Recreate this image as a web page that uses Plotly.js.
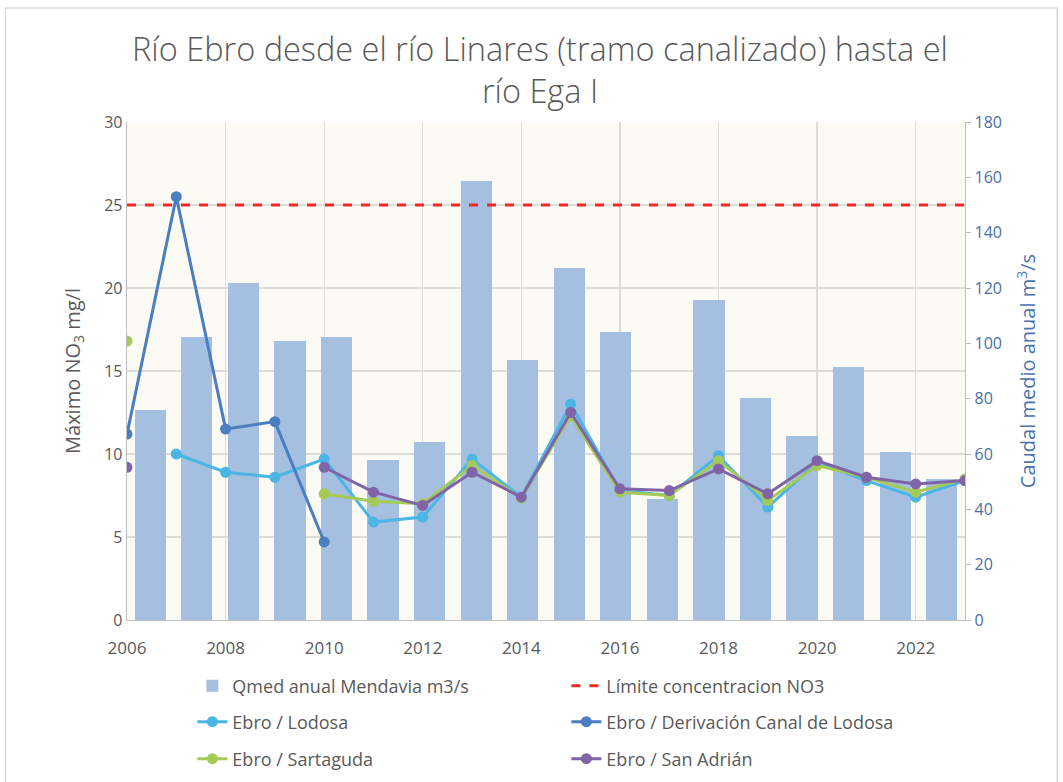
<!DOCTYPE html>
<html>
<head>
<meta charset="utf-8">
<script src="https://cdn.plot.ly/plotly-3.0.1.min.js"></script>
<style>
html,body{margin:0;padding:0;background:#ffffff;}
#chart{width:1063px;height:782px;}
</style>
</head>
<body>
<div id="chart"></div>
<script>
// ---- data ----
const years = [2006,2007,2008,2009,2010,2011,2012,2013,2014,2015,2016,2017,2018,2019,2020,2021,2022,2023];
const qmedMendavia = [76,102.3,121.8,101,102.4,58,64.3,158.7,94,127.2,104.1,43.7,115.6,80.2,66.5,91.4,60.7,51];
const limiteNO3 = [25,25];
const limiteYears = [2006,2023];
const lodosa = [null,10.0,8.9,8.6,9.7,5.9,6.2,9.7,7.4,13.0,7.8,7.5,9.9,6.8,9.5,8.4,7.4,8.4];
const derivacion = [11.2,25.5,11.5,11.95,4.7,null,null,null,null,null,null,null,null,null,null,null,null,null];
const sartaguda = [16.8,null,null,null,7.6,7.15,7.0,9.3,7.35,12.3,7.7,7.5,9.6,7.2,9.3,8.6,7.7,8.5];
const sanAdrian = [9.2,null,null,null,9.2,7.7,6.9,8.9,7.4,12.5,7.9,7.8,9.1,7.6,9.6,8.6,8.2,8.4];
const names = ["Qmed anual Mendavia m3/s","Límite concentracion NO3","Ebro / Lodosa","Ebro / Derivación Canal de Lodosa","Ebro / Sartaguda","Ebro / San Adrián"];

const grey = "#595959";
const lineTrace = (y, name, color, lg) => ({
  type: "scatter", mode: "lines+markers", x: years, y: y, name: name,
  xaxis: "x2", yaxis: "y2", connectgaps: false, legend: lg,
  line: {color: color, width: 3},
  marker: {color: color, size: 11}
});

const traces = [
  {type: "bar", x: years, y: qmedMendavia, name: names[0], xaxis: "x", yaxis: "y",
   width: 0.67, marker: {color: "#a4bfe0"}, legend: "legend"},
  {type: "scatter", mode: "lines", x: limiteYears, y: limiteNO3, name: names[1],
   xaxis: "x2", yaxis: "y2", legend: "legend", line: {color: "#f02828", width: 3, dash: "dash"}},
  lineTrace(lodosa, names[2], "#4bb5e6", "legend2"),
  lineTrace(derivacion, names[3], "#4a7ec0", "legend2"),
  lineTrace(sartaguda, names[4], "#a5ca55", "legend3"),
  lineTrace(sanAdrian, names[5], "#8064a8", "legend3")
];

const legendBase = (yy) => ({
  orientation: "h", x: 0.078, xanchor: "left", y: yy, yanchor: "middle",
  entrywidth: 329, entrywidthmode: "pixels",
  font: {size: 18, color: grey}, traceorder: "normal", bgcolor: "rgba(0,0,0,0)"
});

const layout = {
  width: 1063, height: 782,
  paper_bgcolor: "#ffffff",
  plot_bgcolor: "#fbfaf4",
  margin: {l: 127, r: 98, t: 122, b: 162, autoexpand: false},
  font: {family: "Open Sans, sans-serif", color: grey},
  title: {
    text: "Río Ebro desde el río Linares (tramo canalizado) hasta el<br>río Ega I",
    font: {family: "Open Sans, sans-serif", size: 32.5, color: grey, weight: 300},
    x: 0.508, xanchor: "center", y: 0.922, yanchor: "top", yref: "container"
  },
  showlegend: true,
  legend: legendBase(-(686 - 620) / 498),
  legend2: legendBase(-(722 - 620) / 498),
  legend3: legendBase(-(759 - 620) / 498),
  bargap: 0,
  xaxis: {
    range: [2005.5, 2023.5], visible: false, fixedrange: true
  },
  yaxis: {
    range: [0, 180], side: "right", dtick: 20, showgrid: false, zeroline: false,
    showline: true, linecolor: "#bfbfbf", linewidth: 1.3,
    ticks: "outside", ticklen: 5, tickcolor: "#bfbfbf",
    tickfont: {size: 16, color: "#4a6fa5"},
    title: {text: "Caudal medio anual m<sup>3</sup>/s", font: {size: 20, color: "#4a72b0"}, standoff: 20}
  },
  xaxis2: {
    overlaying: "x", anchor: "y2", side: "bottom",
    range: [2006, 2023], dtick: 2, tick0: 2006,
    showgrid: true, gridcolor: "#dedcd6", gridwidth: 1.3,
    showline: true, linecolor: "#bfbfbf", linewidth: 1.3, zeroline: false,
    ticks: "", ticklabelstandoff: 12, tickfont: {size: 17, color: grey}
  },
  yaxis2: {
    overlaying: "y", side: "left", anchor: "x2",
    range: [0, 30], dtick: 5,
    showgrid: true, gridcolor: "#dedcd6", gridwidth: 1.3,
    showline: true, linecolor: "#bfbfbf", linewidth: 1.3, zeroline: false,
    ticks: "", tickfont: {size: 16, color: grey},
    title: {text: "Máximo NO<sub>3</sub> mg/l", font: {size: 20, color: grey}, standoff: 18}
  },
  shapes: [
    {type: "rect", xref: "paper", yref: "paper", x0: -0.145, x1: 1.11, y0: -0.35, y1: 1.229,
     line: {color: "#d9d9d9", width: 1.5}, fillcolor: "rgba(0,0,0,0)", layer: "below"}
  ]
};

Plotly.newPlot("chart", traces, layout, {displayModeBar: false, staticPlot: true});
</script>
</body>
</html>
